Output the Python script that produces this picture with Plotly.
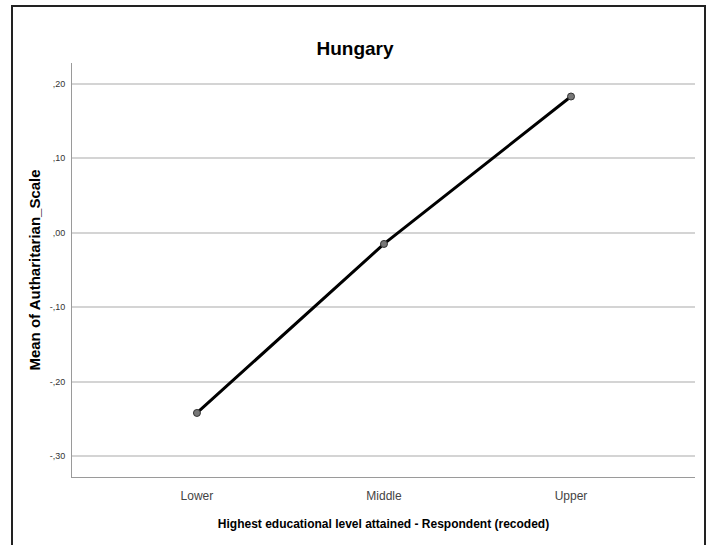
import plotly.graph_objects as go

categories = ["Lower", "Middle", "Upper"]
means = [-0.242, -0.015, 0.183]
tick_vals = [0.20, 0.10, 0.00, -0.10, -0.20, -0.30]
tick_text = [",20", ",10", ",00", "-,10", "-,20", "-,30"]

W, H = 710, 545
L, R, T, B = 72, 15, 63, 68
pw, ph = W - L - R, H - T - B

fig = go.Figure()
fig.add_trace(go.Scatter(
    x=[0, 1, 2], y=means, mode="lines+markers",
    line=dict(color="black", width=3),
    marker=dict(size=7, color="#777777", line=dict(color="#333333", width=1)),
    showlegend=False, hoverinfo="skip"))

fig.update_layout(
    width=W, height=H,
    margin=dict(l=L, r=R, t=T, b=B),
    paper_bgcolor="white", plot_bgcolor="white",
    font=dict(family="Liberation Sans, Arial, sans-serif", color="#222222"),
    title=dict(text="<b>Hungary</b>", x=0.5, xanchor="center", y=1 - 48 / H, yanchor="middle",
               font=dict(size=19, color="black")),
    xaxis=dict(
        range=[-0.668, 2.663], tickvals=[0, 1, 2], ticktext=categories,
        showgrid=False, zeroline=False, showline=True, linecolor="#9a9a9a", linewidth=1,
        ticks="", tickfont=dict(size=12, color="#444444"), ticklabelstandoff=8,
        title=dict(text="<b>Highest educational level attained - Respondent (recoded)</b>",
                   font=dict(size=12, color="black"), standoff=17),
    ),
    yaxis=dict(
        range=[-0.328, 0.228], tickvals=tick_vals, ticktext=tick_text,
        showgrid=True, gridcolor="#d4d4d4", gridwidth=1.5, zeroline=False,
        showline=True, linecolor="#9a9a9a", linewidth=1, ticks="",
        tickfont=dict(size=9, color="#333333"), ticklabelstandoff=4,
        title=dict(text="<b>Mean of Autharitarian_Scale</b>", font=dict(size=15, color="black"),
                   standoff=5),
    ),
    shapes=[dict(type="rect", xref="paper", yref="paper",
                 x0=(12 - L) / pw, x1=(705 - L) / pw,
                 y0=-0.25, y1=1 + (T - 6) / ph,
                 line=dict(color="#222222", width=2), layer="below")],
)

fig.write_html("out.html", config={"displayModeBar": False},
               post_script="document.body.style.margin='0';document.body.style.overflow='hidden';")
